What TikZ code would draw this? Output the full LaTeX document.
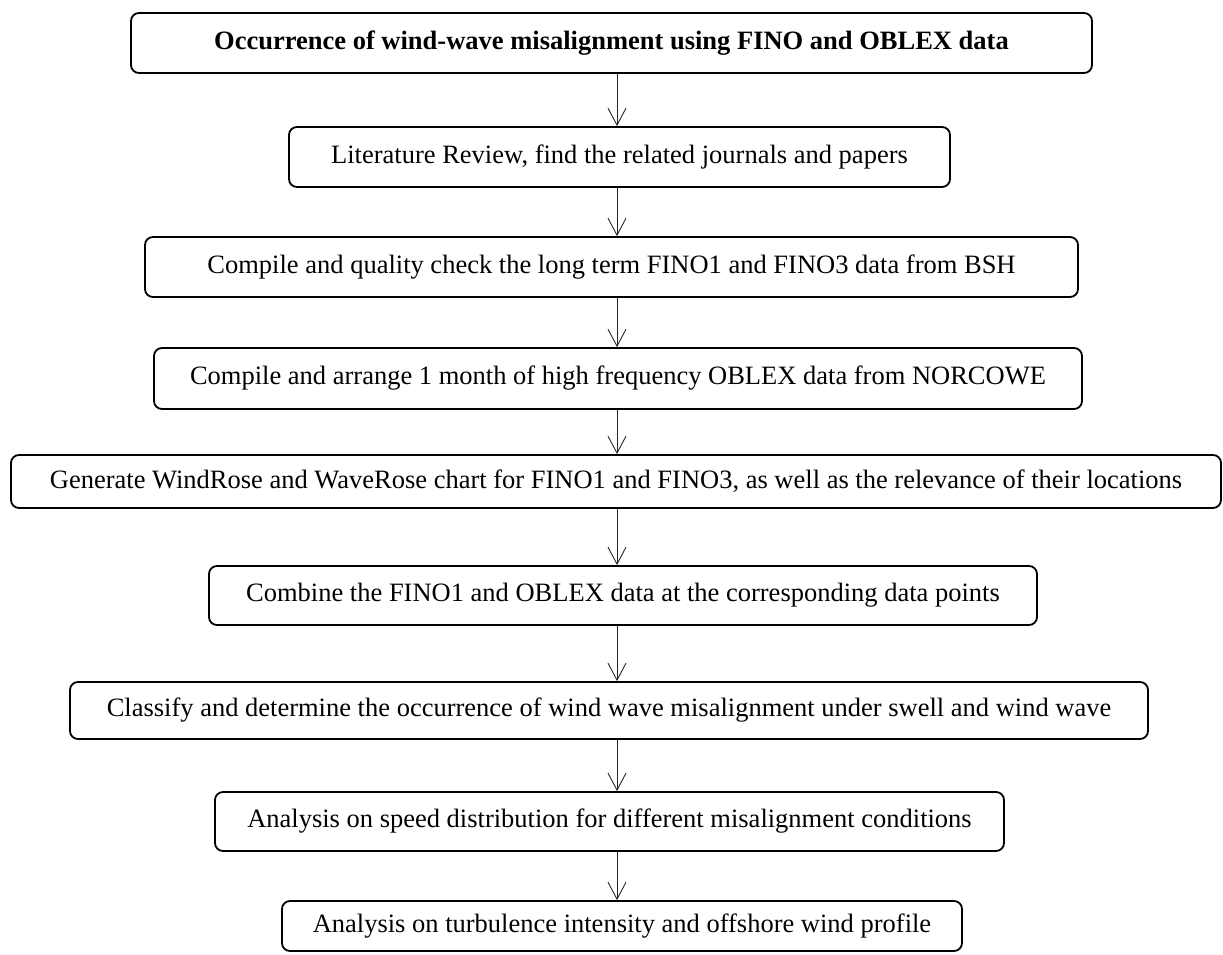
\documentclass[tikz,border=0pt]{standalone}
\usepackage{fontspec}
\setmainfont{Liberation Serif}
\usetikzlibrary{arrows.meta}
\begin{document}
\begin{tikzpicture}[x=1pt,y=-1pt,
  box/.style={draw, line width=1.8pt, rounded corners=8pt, inner sep=0pt, align=center,
    font=\fontsize{26.5}{30}\selectfont},
  arr/.style={line width=0.9pt, draw=black!85, -{Straight Barb[length=17pt,width=18pt,line width=0.9pt]}}]
\path[use as bounding box] (0,0) rectangle (1223,954);
\coordinate (ax) at (617,0);
\node[box, minimum width=961pt, minimum height=60pt, font=\fontsize{26.5}{30}\selectfont\bfseries] (b1) at (611.5,43) {Occurrence of wind-wave misalignment using FINO and OBLEX data};
\node[box, minimum width=661pt, minimum height=60pt] (b2) at (619.5,157) {Literature Review, find the related journals and papers};
\node[box, minimum width=933pt, minimum height=60pt] (b3) at (611.5,267) {Compile and quality check the long term FINO1 and FINO3 data from BSH};
\node[box, minimum width=928pt, minimum height=61pt] (b4) at (618,378.5) {Compile and arrange 1 month of high frequency OBLEX data from NORCOWE};
\node[box, minimum width=1210pt, minimum height=53pt] (b5) at (616,481.5) {Generate WindRose and WaveRose chart for FINO1 and FINO3, as well as the relevance of their locations};
\node[box, minimum width=828pt, minimum height=59pt] (b6) at (623,595.5) {Combine the FINO1 and OBLEX data at the corresponding data points};
\node[box, minimum width=1078pt, minimum height=57pt] (b7) at (609,710.5) {Classify and determine the occurrence of wind wave misalignment under swell and wind wave};
\node[box, minimum width=789pt, minimum height=59pt] (b8) at (609.5,821.5) {Analysis on speed distribution for different misalignment conditions};
\node[box, minimum width=680pt, minimum height=50pt] (b9) at (622,926) {Analysis on turbulence intensity and offshore wind profile};
\draw[arr] (b1.south -| ax) -- (b2.north -| ax);
\draw[arr] (b2.south -| ax) -- (b3.north -| ax);
\draw[arr] (b3.south -| ax) -- (b4.north -| ax);
\draw[arr] (b4.south -| ax) -- (b5.north -| ax);
\draw[arr] (b5.south -| ax) -- (b6.north -| ax);
\draw[arr] (b6.south -| ax) -- (b7.north -| ax);
\draw[arr] (b7.south -| ax) -- (b8.north -| ax);
\draw[arr] (b8.south -| ax) -- (b9.north -| ax);
\end{tikzpicture}
\end{document}
